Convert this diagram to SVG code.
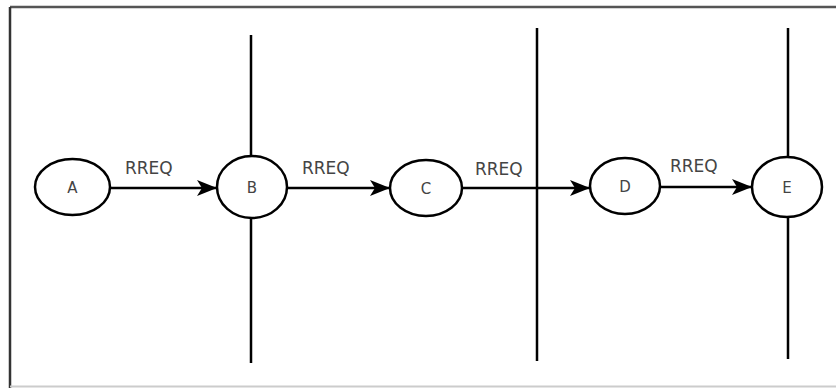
<svg xmlns="http://www.w3.org/2000/svg" width="836" height="388" viewBox="0 0 836 388">
  <style>
    .bar { stroke: #000; stroke-width: 2.5; fill: none; }
    .edge { stroke: #000; stroke-width: 2.5; fill: none; }
    .node ellipse { fill: #fff; stroke: #000; stroke-width: 2.5; }
    .node text { font-family: "DejaVu Sans", "Liberation Sans", sans-serif; font-size: 15px; fill: #444; text-anchor: middle; }
    .lbl { font-family: "DejaVu Sans", "Liberation Sans", sans-serif; font-size: 17px; fill: #444; }
  </style>
  <defs>
    <marker id="arrow" viewBox="0 0 20 16" refX="20" refY="8" markerWidth="20" markerHeight="16" markerUnits="userSpaceOnUse" orient="auto">
      <path d="M0,0 L20,8 L0,16 L5,8 Z" fill="#000"/>
    </marker>
  </defs>

  <rect width="836" height="388" fill="#fff"/>

  <!-- outer frame -->
  <g id="frame">
    <line x1="10" y1="7" x2="836" y2="7" stroke="#555" stroke-width="2.5"/>
    <line x1="10" y1="7" x2="10" y2="388" stroke="#333" stroke-width="2.5"/>
    <line x1="10" y1="386.5" x2="836" y2="386.5" stroke="#ccc" stroke-width="2"/>
  </g>

  <!-- vertical boundaries -->
  <g id="boundaries">
    <line class="bar" x1="251" y1="35" x2="251" y2="363"/>
    <line class="bar" x1="537" y1="28" x2="537" y2="361"/>
    <line class="bar" x1="788" y1="28" x2="788" y2="359"/>
  </g>

  <!-- connectors -->
  <g id="connectors">
    <line class="edge" x1="110" y1="188" x2="217" y2="188" marker-end="url(#arrow)"/>
    <line class="edge" x1="287" y1="188" x2="390" y2="188" marker-end="url(#arrow)"/>
    <line class="edge" x1="462" y1="188" x2="590" y2="188" marker-end="url(#arrow)"/>
    <line class="edge" x1="660" y1="187" x2="752" y2="187" marker-end="url(#arrow)"/>
    <text class="lbl" x="125" y="174">RREQ</text>
    <text class="lbl" x="302" y="174">RREQ</text>
    <text class="lbl" x="475" y="175">RREQ</text>
    <text class="lbl" x="670" y="172">RREQ</text>
  </g>

  <g id="node-A" class="node">
    <ellipse cx="72.5" cy="187" rx="37.5" ry="28"/>
    <text x="72.5" y="192.5">A</text>
  </g>
  <g id="node-B" class="node">
    <ellipse cx="252" cy="187" rx="35" ry="31"/>
    <text x="252" y="192.5">B</text>
  </g>
  <g id="node-C" class="node">
    <ellipse cx="426" cy="188" rx="36" ry="28"/>
    <text x="426" y="193.5">C</text>
  </g>
  <g id="node-D" class="node">
    <ellipse cx="625" cy="186" rx="35" ry="28"/>
    <text x="625" y="191.5">D</text>
  </g>
  <g id="node-E" class="node">
    <ellipse cx="787" cy="187" rx="35" ry="30"/>
    <text x="787" y="192.5">E</text>
  </g>
</svg>
